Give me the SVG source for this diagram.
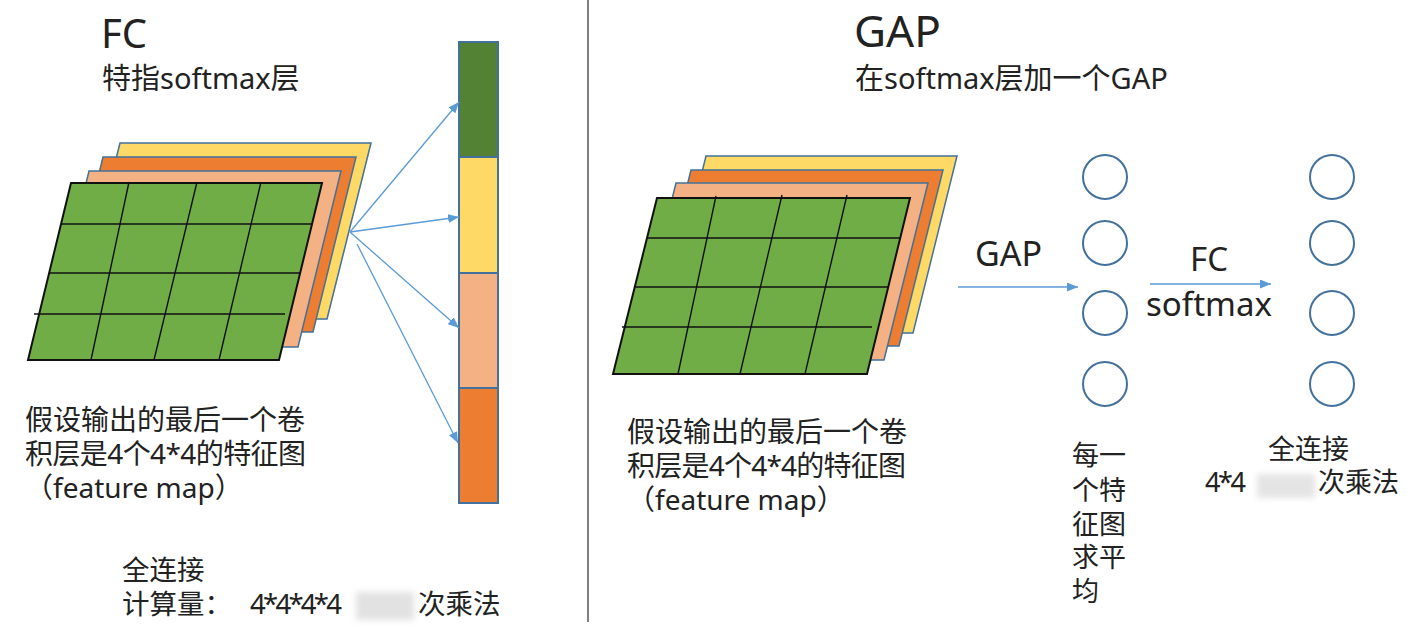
<svg xmlns="http://www.w3.org/2000/svg" width="1412" height="637" viewBox="0 0 1412 637">
  <defs>
    <style>
      .t { font-family: 'Noto Sans', 'Noto Sans CJK SC', sans-serif; fill: #222; }
      .back { stroke: #41719C; stroke-width: 1.5; stroke-linejoin: miter; }
      .front { fill: #70AD47; stroke: #111; stroke-width: 2; }
      .grid { stroke: #111; stroke-width: 1.4; fill: none; }
      .yel { fill: #FFD966; }
      .ora { fill: #ED7D31; }
      .pea { fill: #F4B183; }
      .dgr { fill: #548235; }
      .seg { stroke: #41719C; stroke-width: 2; }
      .node { fill: #fff; stroke: #41719C; stroke-width: 2; }
      .conn { stroke: #5B9BD5; stroke-width: 1.3; fill: none; marker-end: url(#ah); }
      .blur { fill: #cfcfcf; filter: url(#soft); }
    </style>
    <marker id="ah" markerUnits="userSpaceOnUse" markerWidth="11" markerHeight="9" refX="11" refY="4.5" orient="auto">
      <path d="M0,0 L11,4.5 L0,9 z" fill="#5B9BD5"/>
    </marker>
    <filter id="soft" x="-20%" y="-30%" width="140%" height="160%">
      <feGaussianBlur stdDeviation="3"/>
    </filter>
  </defs>
  <rect width="1412" height="637" fill="#fff"/>

  <g id="divider">
    <line x1="588" y1="0" x2="588" y2="622" stroke="#555" stroke-width="1.5"/>
  </g>

  <!-- LEFT: FC -->
  <g id="fc-title">
    <text class="t" x="101" y="48" font-size="40">FC</text>
    <text class="t" x="102" y="89" font-size="29">特指softmax层</text>
  </g>

  <g id="fc-stack">
    <polygon class="back yel" points="120,143 371,143 327,319 76,319"/>
    <polygon class="back ora" points="103,157 356,157 313,332 60,332"/>
    <polygon class="back pea" points="89,171 341,171 298,347 46,347"/>
    <polygon class="front" points="71,183 322,183 279,360 28,360"/>
    <line class="grid" x1="61" y1="224" x2="312" y2="224"/>
    <line class="grid" x1="49" y1="273" x2="300" y2="273"/>
    <line class="grid" x1="34" y1="314" x2="285" y2="314"/>
    <line class="grid" x1="129" y1="182" x2="91" y2="360"/>
    <line class="grid" x1="197" y1="182" x2="154" y2="360"/>
    <line class="grid" x1="261" y1="182" x2="219" y2="360"/>
  </g>

  <g id="fc-vector">
    <rect class="dgr" x="459" y="42" width="39" height="115"/>
    <rect class="yel" x="459" y="157" width="39" height="116"/>
    <rect class="pea" x="459" y="273" width="39" height="115"/>
    <rect class="ora" x="459" y="388" width="39" height="115"/>
    <line class="seg" x1="459" y1="157" x2="498" y2="157"/>
    <line class="seg" x1="459" y1="273" x2="498" y2="273"/>
    <line class="seg" x1="459" y1="388" x2="498" y2="388"/>
    <rect x="459" y="42" width="39" height="461" fill="none" stroke="#41719C" stroke-width="2"/>
  </g>

  <g id="fc-desc">
    <text class="t" font-size="28"><tspan x="25" y="430">假设输出的最后一个卷</tspan><tspan x="25" y="464" textLength="281">积层是4个4*4的特征图</tspan><tspan x="25" y="498">（feature map）</tspan></text>
  </g>

  <g id="fc-calc">
    <rect class="blur" x="356" y="592" width="58" height="28" opacity="0.6"/>
    <text class="t" font-size="27.5"><tspan x="122" y="580">全连接</tspan><tspan x="122" y="614">计算量：</tspan><tspan x="250" y="614" textLength="92">4*4*4*4</tspan><tspan x="418" y="614">次乘法</tspan></text>
  </g>

  <!-- RIGHT: GAP -->
  <g id="gap-title">
    <text class="t" x="854" y="47" font-size="44">GAP</text>
    <text class="t" x="855" y="89" font-size="29">在softmax层加一个GAP</text>
  </g>

  <g id="gap-stack">
    <polygon class="back yel" points="706,156 957,156 913,333 662,333"/>
    <polygon class="back ora" points="691,170 943,170 899,346 647,346"/>
    <polygon class="back pea" points="676,183 928,183 884,360 632,360"/>
    <polygon class="front" points="657,198 910,198 867,374 613,374"/>
    <line class="grid" x1="647" y1="238" x2="900" y2="238"/>
    <line class="grid" x1="635" y1="287" x2="888" y2="287"/>
    <line class="grid" x1="622" y1="327" x2="872" y2="327"/>
    <line class="grid" x1="716" y1="196" x2="678" y2="374"/>
    <line class="grid" x1="782" y1="195" x2="740" y2="374"/>
    <line class="grid" x1="847" y1="195" x2="805" y2="374"/>
  </g>

  <g id="gap-desc">
    <text class="t" font-size="28"><tspan x="627" y="442">假设输出的最后一个卷</tspan><tspan x="627" y="476" textLength="279">积层是4个4*4的特征图</tspan><tspan x="627" y="510">（feature map）</tspan></text>
  </g>

  <g id="gap-label">
    <text class="t" x="975" y="266" font-size="34">GAP</text>
  </g>

  <g id="fc-softmax-label">
    <text class="t" font-size="33" text-anchor="middle"><tspan x="1209" y="271">FC</tspan><tspan x="1209" y="316">softmax</tspan></text>
  </g>

  <g id="gap-node-1"><circle class="node" cx="1105" cy="177" r="22"/></g>
  <g id="gap-node-2"><circle class="node" cx="1105" cy="243" r="22"/></g>
  <g id="gap-node-3"><circle class="node" cx="1105" cy="313" r="22"/></g>
  <g id="gap-node-4"><circle class="node" cx="1105" cy="384" r="22"/></g>
  <g id="out-node-1"><circle class="node" cx="1332" cy="177" r="22"/></g>
  <g id="out-node-2"><circle class="node" cx="1332" cy="243" r="22"/></g>
  <g id="out-node-3"><circle class="node" cx="1332" cy="313" r="22"/></g>
  <g id="out-node-4"><circle class="node" cx="1332" cy="384" r="22"/></g>

  <g id="gap-avg-text">
    <text class="t" font-size="27"><tspan x="1072" y="465">每一</tspan><tspan x="1072" y="500">个特</tspan><tspan x="1072" y="534">征图</tspan><tspan x="1072" y="567">求平</tspan><tspan x="1072" y="601">均</tspan></text>
  </g>

  <g id="gap-calc">
    <rect class="blur" x="1257" y="474" width="58" height="24" opacity="0.55"/>
    <text class="t" font-size="27"><tspan x="1268" y="459">全连接</tspan><tspan x="1205" y="492" textLength="41">4*4</tspan><tspan x="1318" y="492">次乘法</tspan></text>
  </g>

  <g id="connectors">
    <line class="conn" x1="350" y1="232" x2="459" y2="102"/>
    <line class="conn" x1="350" y1="232" x2="459" y2="217"/>
    <line class="conn" x1="350" y1="232" x2="459" y2="328"/>
    <line class="conn" x1="357" y1="244" x2="458" y2="443"/>
    <line class="conn" x1="958" y1="287" x2="1078" y2="287"/>
    <line class="conn" x1="1150" y1="284" x2="1271" y2="284"/>
  </g>
</svg>
